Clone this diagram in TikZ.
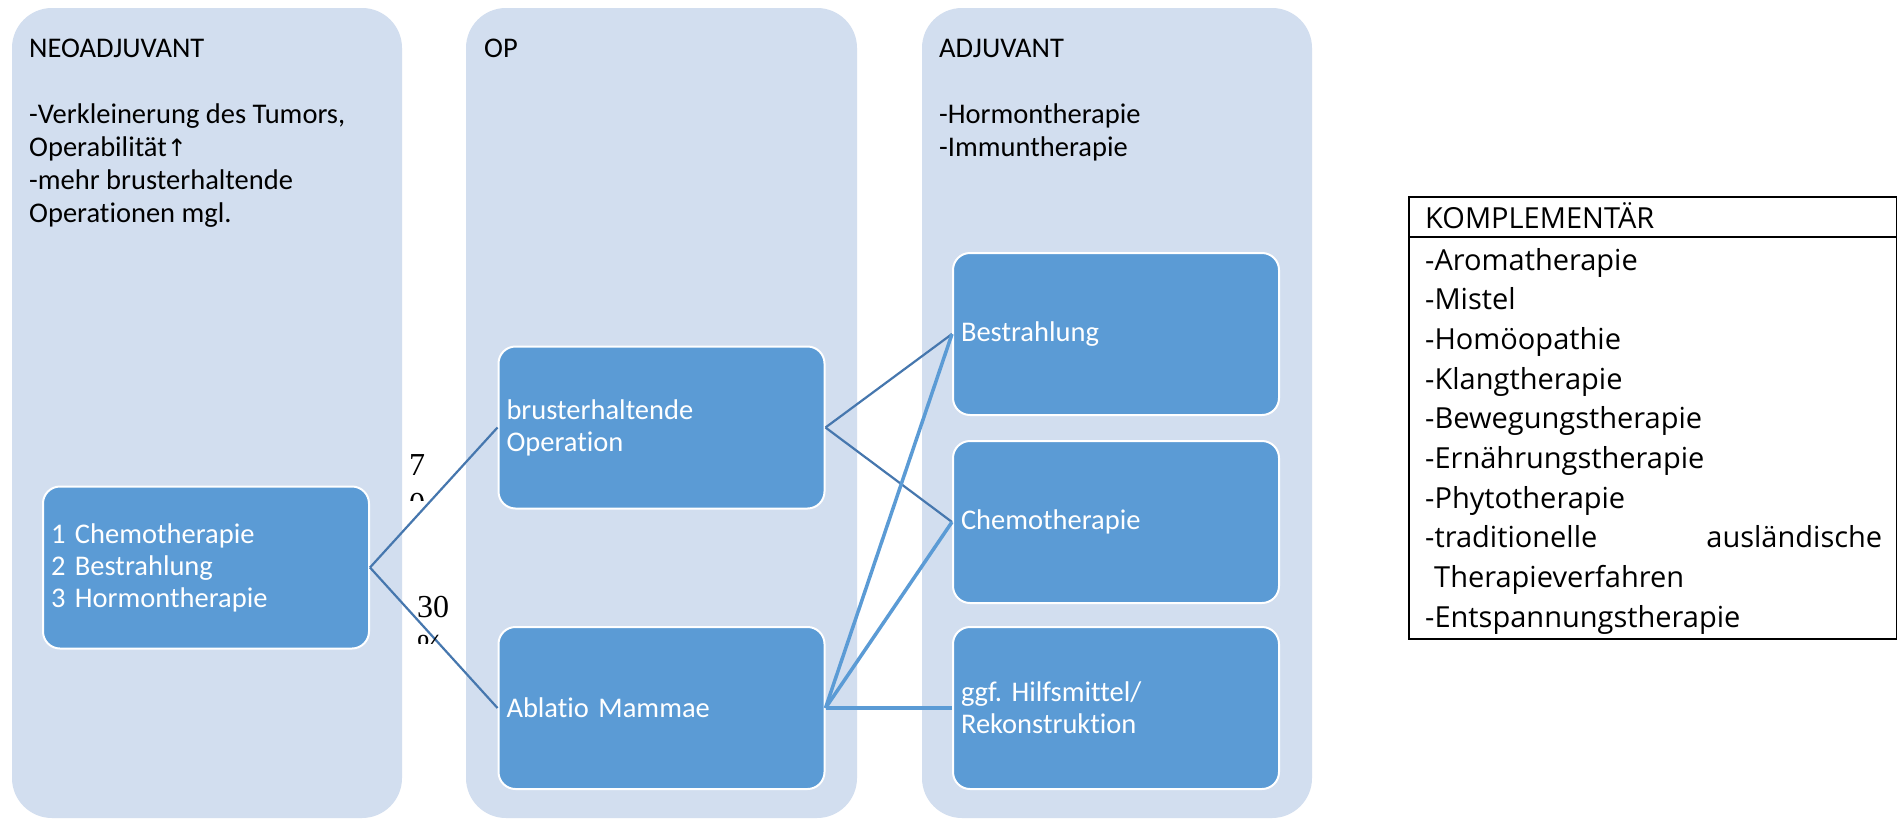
\documentclass[tikz,border=0pt]{standalone}
\usepackage{fontspec}
\setmainfont{Carlito}[Ligatures=NoCommon]
\newfontfamily\opensans{Open Sans}
\newfontfamily\symfont{DejaVu Sans}
\newfontfamily\timesfont{Liberation Serif}
\definecolor{colfill}{HTML}{D2DEEF}
\definecolor{boxfill}{HTML}{5B9BD5}
\definecolor{linkdark}{HTML}{4677AE}
\definecolor{linklight}{HTML}{5B9BD5}
\frenchspacing
\begin{document}
\begin{tikzpicture}[x=1pt,y=-1pt,
  column/.style={fill=colfill, rounded corners=40pt},
  stage/.style={fill=boxfill, draw=white, line width=2pt, rounded corners=17pt,
    text=white, font=\fontsize{28.5}{32}\selectfont, align=left,
    text width=310pt, inner xsep=8pt, inner ysep=0pt, minimum height=162pt, anchor=center},
  head/.style={font=\fontsize{28.5}{33}\selectfont, align=left, inner sep=0pt, anchor=base west},
  kfont/.style={font=\opensans\fontsize{29}{39.7}\selectfont, align=left, inner sep=0pt, anchor=base west},
  pct/.style={font=\timesfont\fontsize{32}{39}\selectfont, align=left, inner sep=0pt, anchor=base west},
  darklink/.style={draw=linkdark, line width=2.2pt},
  lightlink/.style={draw=linklight, line width=3.5pt},
]
\useasboundingbox (0,0) rectangle (1897,819);
\fill[white] (0,0) rectangle (1897,819);

% columns
\path[column] (12,8) rectangle (402,818);
\path[column] (466,8) rectangle (857,818);
\path[column] (922,8) rectangle (1312,818);

% column texts (base anchor = baseline of last line)
\node[head] (neoT) at (29,222) {NEOADJUVANT\\[33pt]-Verkleinerung des Tumors,\\Operabilität{\symfont\fontsize{24}{33}\selectfont ↑}\\-mehr brusterhaltende\\Operationen mgl.};
\node[head] (opT) at (484,57) {OP};
\node[head] (adjT) at (939,156) {ADJUVANT\\[33pt]-Hormontherapie\\-Immuntherapie};

% stage boxes
\node[stage] (neo) at (206,567.5) {1 Chemotherapie\\2 Bestrahlung\\3 Hormontherapie};
\node[stage] (bet) at (661.5,427.5) {brusterhaltende\\Operation};
\node[stage] (abl) at (661.5,708) {Ablatio Mammae};
\node[stage] (bes) at (1116,334) {Bestrahlung};
\node[stage] (che) at (1116,522) {Chemotherapie};
\node[stage] (hil) at (1116,708) {ggf. Hilfsmittel/\\Rekonstruktion};

% connectors
\draw[darklink] (neo.east) -- (bet.west);
\draw[darklink] (neo.east) -- (abl.west);
\draw[darklink] (bet.east) -- (bes.west);
\draw[darklink] (bet.east) -- (che.west);
\draw[lightlink] (abl.east) -- (bes.west);
\draw[lightlink] (abl.east) -- (che.west);
\draw[lightlink] (abl.east) -- (hil.west);

% percentage labels (clipped text boxes)
\begin{scope}
  \clip (400,440) rectangle (445,500);
  \node[pct] (p70) at (409,553) {7\\0\\\%};
\end{scope}
\begin{scope}
  \clip (410,580) rectangle (460,643);
  \node[pct] (p30) at (417,656) {30\\\%};
\end{scope}

% complementary box
\node[draw, line width=2pt, minimum width=488pt, minimum height=442pt, inner sep=0pt, anchor=north west] (komp) at (1408,196) {};
\draw[line width=2pt] ([yshift=-41pt]komp.north west) -- ([yshift=-41pt]komp.north east);
\node[kfont] (kh) at (1425,228) {KOMPLEMENTÄR};
\node[kfont] (kl) at (1425,627.3) {-Aromatherapie\\-Mistel\\-Homöopathie\\-Klangtherapie\\-Bewegungstherapie\\-Ernährungstherapie\\-Phytotherapie\\\hbox to 457pt{-traditionelle\hfill ausländische}\\\hspace*{9pt}Therapieverfahren\\-Entspannungstherapie};
\end{tikzpicture}
\end{document}
